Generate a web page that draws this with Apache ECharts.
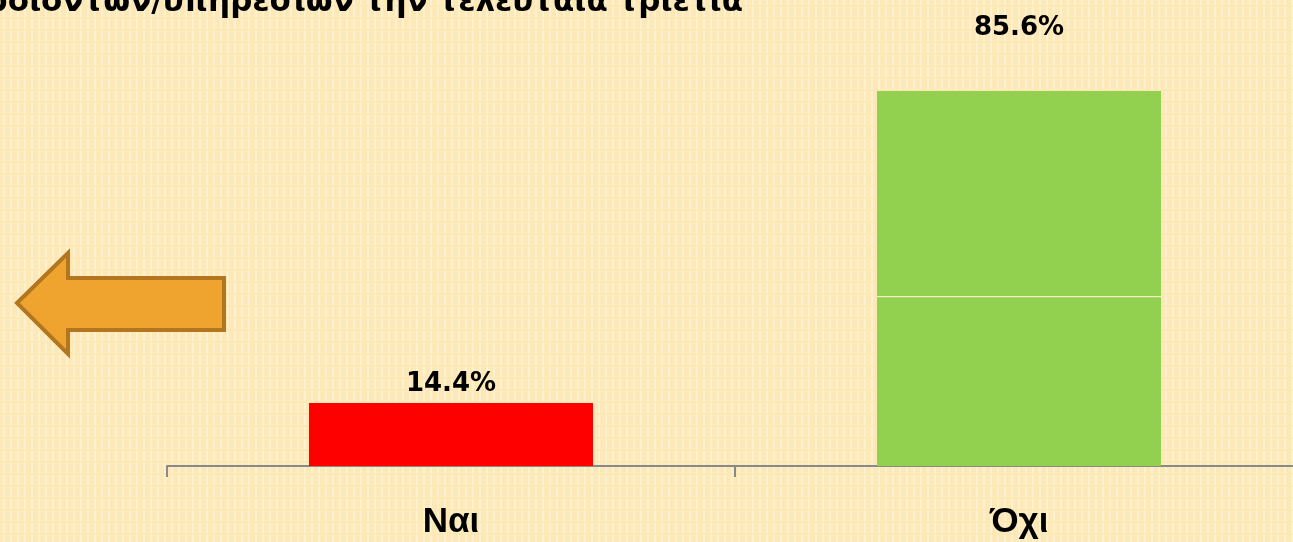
<!DOCTYPE html>
<html>
<head>
<meta charset="utf-8">
<script src="https://cdn.jsdelivr.net/npm/echarts@6/dist/echarts.min.js"></script>
<style>
  html, body { margin: 0; padding: 0; background: #fde9b7; }
  #chart { width: 1293px; height: 542px; }
</style>
</head>
<body>
<div id="chart"></div>
<script>
// data
const categories = ["Ναι", "Όχι"];
const values = [14.4, 85.6];
// level of the thin light seam seen inside the "Όχι" bar
const seamLevel = ["-", 38.5];
const seamSize = ["-", 0.3];
const titleText = "Εισαγωγή νέων προϊόντων/υπηρεσιών την τελευταία τριετία";

const barColors = ["#ff0000", "#92d050"];
const labelDistance = [6, 50];

// background: light yellow with faint vertical stripes
function makePattern() {
  const c = document.createElement("canvas");
  c.width = 7;
  c.height = 12;
  const ctx = c.getContext("2d");
  ctx.fillStyle = "#fde9b7";
  ctx.fillRect(0, 0, 7, 12);
  ctx.fillStyle = "#fef1cf";
  ctx.fillRect(3, 0, 2, 12);
  ctx.fillStyle = "#fde9b7";
  ctx.fillRect(3, 5, 2, 2);
  return c;
}

const chart = echarts.init(document.getElementById("chart"), null, { renderer: "canvas" });

chart.setOption({
  animation: false,
  backgroundColor: { image: makePattern(), repeat: "repeat" },
  grid: { left: 167, width: 1136, top: 28, bottom: 76, outerBoundsMode: "none" },
  xAxis: {
    type: "category",
    data: categories,
    axisLine: { lineStyle: { color: "#898989", width: 2 } },
    axisTick: { show: true, length: 11, lineStyle: { color: "#898989", width: 2 } },
    axisLabel: {
      color: "#000",
      fontFamily: "Liberation Sans",
      fontWeight: "bold",
      fontSize: 35,
      margin: 39
    }
  },
  yAxis: {
    type: "value",
    min: 0,
    max: 100,
    show: false,
    splitLine: { show: false }
  },
  graphic: [
    {
      type: "polygon",
      shape: {
        points: [[17, 303], [68, 253], [68, 278], [224, 278], [224, 330], [68, 330], [68, 354]]
      },
      style: { fill: "#f0a430", stroke: "#b3761f", lineWidth: 4, lineJoin: "miter" }
    },
    {
      type: "text",
      x: 743,
      y: 18,
      style: {
        text: titleText,
        fill: "#000",
        font: "bold 31px 'DejaVu Sans'",
        textAlign: "right",
        textVerticalAlign: "bottom"
      }
    }
  ],
  series: [
    {
      type: "bar",
      barWidth: "50%",
      barGap: "-100%",
      data: values.map((v, i) => ({
        value: v,
        itemStyle: { color: barColors[i] },
        label: { distance: labelDistance[i] }
      })),
      label: {
        show: true,
        position: "top",
        color: "#000",
        fontFamily: "DejaVu Sans",
        fontWeight: "bold",
        fontSize: 26,
        formatter: (p) => p.value.toFixed(1) + "%"
      }
    },
    {
      type: "bar",
      stack: "seam",
      barWidth: "50%",
      barGap: "-100%",
      silent: true,
      itemStyle: { color: "transparent" },
      data: seamLevel
    },
    {
      type: "bar",
      stack: "seam",
      barWidth: "50%",
      barGap: "-100%",
      silent: true,
      itemStyle: { color: "#f3efc0" },
      data: seamSize
    }
  ]
});
</script>
</body>
</html>
